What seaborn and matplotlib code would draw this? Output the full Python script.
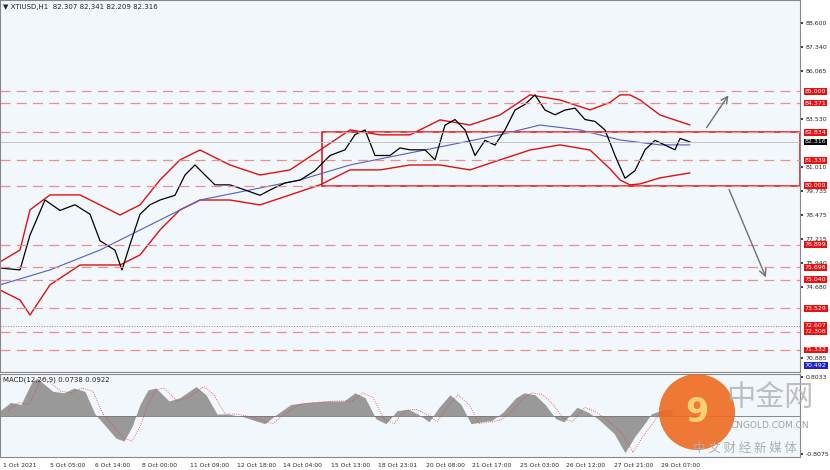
import matplotlib
matplotlib.use("Agg")
import matplotlib.pyplot as plt
import seaborn as sns
import numpy as np
from matplotlib.patches import Rectangle, Ellipse

sns.set_theme(style="white")
plt.rcParams['font.family'] = ['DejaVu Sans', 'Noto Sans CJK SC']

# price (close) path, x in bar-position units
px = [0,20,30,45,60,75,90,100,115,122,130,140,150,160,175,185,195,205,215,230,245,260,270,285,300,315,330,345,355,365,375,390,400,410,425,435,445,455,465,475,485,495,505,515,525,535,545,555,565,575,585,595,605,615,625,635,645,655,665,675,680,690]
close = [75.66,75.56,77.40,79.25,78.70,79.00,78.50,77.10,76.60,75.56,76.90,78.50,79.00,79.25,79.50,80.57,81.10,80.57,80.05,80.05,79.78,79.50,79.78,80.15,80.30,80.80,81.60,81.90,82.70,82.95,81.60,81.60,82.00,81.90,81.90,81.37,83.20,83.50,82.95,81.60,82.40,82.15,82.95,84.00,84.30,84.80,84.00,83.75,84.00,84.10,83.50,83.40,82.95,81.60,80.40,80.80,81.90,82.40,82.15,81.90,82.50,82.32]
bx = [0,20,30,50,80,100,120,140,160,180,200,230,260,290,320,350,380,410,440,470,500,530,560,590,610,620,630,640,660,690]
upper = [75.98,76.61,78.73,79.52,79.52,78.99,78.46,78.99,80.31,81.37,81.89,81.10,80.57,80.84,81.89,82.95,82.69,82.69,83.48,83.21,83.74,84.80,84.53,84.01,84.40,84.80,84.80,84.53,83.74,83.21]
lower = [74.50,73.97,73.18,74.77,75.82,75.82,75.82,76.35,77.67,78.73,79.25,79.25,78.99,79.52,80.05,80.84,80.84,81.10,81.10,80.84,81.37,81.89,82.16,81.89,80.90,80.31,80.05,80.10,80.42,80.68]
mx = [0,50,100,150,200,250,300,350,400,450,500,540,580,620,660,690]
ma = [74.77,75.56,76.61,77.93,79.25,79.78,80.31,81.10,81.63,82.16,82.69,83.21,82.95,82.42,82.16,82.16]
levels = [85.000,84.371,82.834,81.339,80.000,76.899,75.696,75.040,73.529,72.308,71.332]
yticks = [88.600,87.340,86.065,83.530,81.010,79.735,78.475,77.215,75.940,74.680,70.885]

hx = [0,10.6,21,32,37,53,64,74,85,95,106,116,124,132,140,148,156,169,180,196,206,217,228,244,254,265,275,291,307,328,344,355,365,376,386,397,408,418,429,439,450,461,471,482,492,503,516,524,535,545,556,564,577,588,598,614,625,635,646,651,664,672]
hist = [0.10,0.27,0.23,0.70,0.77,0.50,0.47,0.57,0.50,0.03,-0.23,-0.47,-0.53,-0.23,0.23,0.53,0.57,0.30,0.37,0.60,0.43,0.03,0.03,-0.03,-0.10,-0.17,0.0,0.23,0.27,0.30,0.30,0.47,0.37,-0.07,-0.17,0.10,0.13,0.03,-0.13,0.17,0.43,0.23,-0.17,-0.13,-0.10,0.07,0.37,0.47,0.43,0.23,-0.07,-0.13,0.17,0.07,-0.07,-0.37,-0.77,-0.43,-0.13,0.03,0.13,0.10]
xlabels = ["1 Oct 2021","5 Oct 05:00","6 Oct 14:00","8 Oct 00:00","11 Oct 09:00","12 Oct 18:00","14 Oct 04:00","15 Oct 13:00","18 Oct 23:01","20 Oct 08:00","21 Oct 17:00","25 Oct 03:00","26 Oct 12:00","27 Oct 21:00","29 Oct 07:00"]
xlpos = [3,50,95,142,190,237,283,331,378,426,472,520,566,614,661]

bg = "#f2f7fc"
fig = plt.figure(figsize=(8.3, 4.7), dpi=100, facecolor="white")
W, H = 830, 470
ax = fig.add_axes([0, 1-372/H, 800/W, 372/H], facecolor=bg)
ax2 = fig.add_axes([0, 1-457/H, 800/W, 83/H], facecolor=bg)

ax.set_xlim(0, 800); ax.set_ylim(70.17, 89.81)
sns.lineplot(x=bx, y=upper, ax=ax, color="#e01010", lw=1.0)
sns.lineplot(x=bx, y=lower, ax=ax, color="#e01010", lw=1.0)
sns.lineplot(x=mx, y=ma, ax=ax, color="#5060c0", lw=0.8)
sns.lineplot(x=px, y=close, ax=ax, color="black", lw=0.9)
for lv in levels:
    ax.axhline(lv, color="#e89090", lw=0.9, ls=(0, (8, 5)))
ax.axhline(72.607, color="#888888", lw=0.7, ls=":")
ax.axhline(82.316, color="#bbbbbb", lw=0.6)
ax.add_patch(Rectangle((322, 80.0), 478, 2.834, fill=False, ec="#e02020", lw=1.2))
ax.annotate("", xy=(730, 84.9), xytext=(705, 82.95), arrowprops=dict(arrowstyle="->", color="#707070", lw=1))
ax.annotate("", xy=(767, 75.03), xytext=(728, 79.94), arrowprops=dict(arrowstyle="->", color="#707070", lw=1))
ax.text(3, 89.6, "▼ XTIUSD,H1  82.307 82.341 82.209 82.316", fontsize=5, va="top")

ax.yaxis.tick_right()
ax.set_yticks(yticks)
ax.set_yticklabels([f"{v:.3f}" for v in yticks], fontsize=4.5)
ax.tick_params(axis="y", length=2, pad=2)
ax.set_xticks([])
for lv in levels + [72.607]:
    ax.text(1.006, lv, f"{lv:.3f}", transform=ax.get_yaxis_transform(), fontsize=4.5, color="white",
            va="center", ha="left", zorder=5, bbox=dict(boxstyle="square,pad=0.15", fc="#e81010", ec="none"))
ax.text(1.006, 82.316, "82.316", transform=ax.get_yaxis_transform(), fontsize=4.5, color="white",
        va="center", bbox=dict(boxstyle="square,pad=0.15", fc="black", ec="none"))
ax.text(1.006, 70.492, "70.492", transform=ax.get_yaxis_transform(), fontsize=4.5, color="white",
        va="center", bbox=dict(boxstyle="square,pad=0.15", fc="#2020d0", ec="none"))
for s in ax.spines.values():
    s.set_color("#888888"); s.set_linewidth(0.8)

ax2.set_xlim(0, 800); ax2.set_ylim(-0.86, 0.86)
ax2.fill_between(hx, hist, 0, color="#999999", lw=0)
sns.lineplot(x=np.array(hx)+8, y=hist, ax=ax2, color="#e04040", lw=0.6, ls=":")
ax2.axhline(0, color="#777777", lw=0.6)
ax2.yaxis.tick_right()
ax2.set_yticks([0.8033, -0.8075]); ax2.set_yticklabels(["0.8033", "-0.8075"], fontsize=4.5)
ax2.tick_params(axis="y", length=2, pad=2)
ax2.set_xticks(xlpos); ax2.set_xticklabels(xlabels, fontsize=4.3, ha="left")
ax2.tick_params(axis="x", length=2, pad=2)
ax2.text(3, 0.8, "MACD(12,26,9) 0.0738 0.0922", fontsize=5, va="top")
for s in ax2.spines.values():
    s.set_color("#888888"); s.set_linewidth(0.8)

# watermark
r = 38
fig.patches.append(Ellipse((697/W, 1-412/H), 2*r/W, 2*r/H, transform=fig.transFigure, fc="#ee6a20", ec="none", alpha=0.9))
fig.text(697/W, 1-412/H, "9", fontsize=24, color="#ffd070", ha="center", va="center", fontweight="bold")
fig.text(770/W, 1-398/H, "中金网", fontsize=21, color="#b0b0b0", ha="center", va="center", family=["Noto Sans CJK SC"], alpha=0.8)
fig.text(770/W, 1-425/H, "CNGOLD.COM.CN", fontsize=6.5, color="#a0a0a0", ha="center", va="center")
fig.text(745/W, 1-448/H, "中 文 财 经 新 媒 体", fontsize=9, color="#b0b0b0", ha="center", va="center", family=["Noto Sans CJK SC"])

fig.savefig("out.png", dpi=100, facecolor="white")
